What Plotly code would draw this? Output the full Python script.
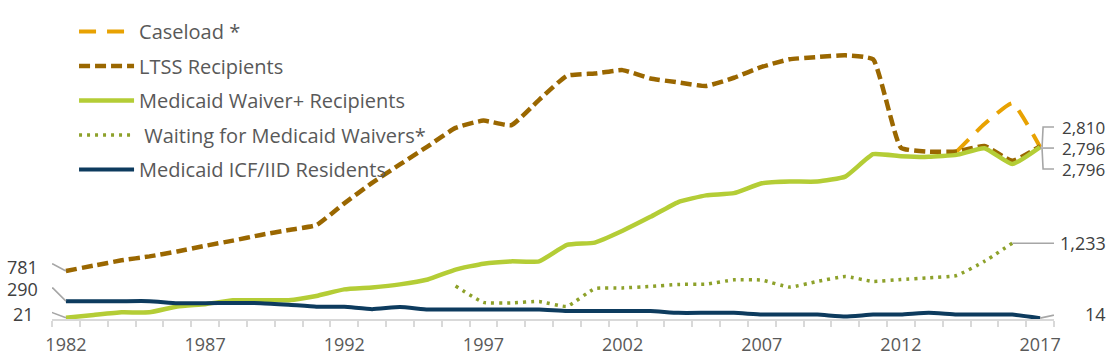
import plotly.graph_objects as go

years = list(range(1982, 2018))

caseload = [None] * 32 + [2722, 3170, 3510, 2796]
ltss = [781, 868, 954, 1018, 1098, 1190, 1275, 1367, 1447, 1527,
        1880, 2214, 2513, 2808, 3108, 3226, 3151, 3564, 3955, 3992,
        4047, 3912, 3847, 3789, 3923, 4100, 4223, 4260, 4288, 4223,
        2786, 2722, 2722, 2813, 2572, 2810]
waiver = [21, 65, 108, 108, 204, 241, 305, 305, 305, 375,
          482, 514, 563, 643, 804, 900, 937, 937, 1206, 1243,
          1436, 1661, 1902, 2010, 2047, 2207, 2235, 2235, 2315, 2680,
          2648, 2637, 2669, 2776, 2519, 2796]
waiting = [None] * 14 + [535, 270, 262, 285, 205, 495,
                         505, 530, 562, 567, 637, 632, 519, 611, 691, 611,
                         643, 670, 707, 937, 1233, None]
icf = [290, 290, 290, 290, 258, 258, 262, 258, 232, 200,
       198, 160, 195, 155, 155, 155, 155, 155, 130, 130,
       130, 130, 100, 100, 100, 72, 72, 72, 40, 72,
       72, 100, 72, 72, 72, 14]

names = ["Caseload *", "LTSS Recipients", "Medicaid Waiver+ Recipients",
         " Waiting for Medicaid Waivers*", "Medicaid ICF/IID Residents"]
tick_years = [1982, 1987, 1992, 1997, 2002, 2007, 2012, 2017]

FONT = "Open Sans"
TXT = "#404040"
LEAD = "#A6A6A6"

fig = go.Figure()
styles = [
    (caseload, dict(color="#E8A202", width=4, dash="17px,11px")),
    (ltss, dict(color="#9A6700", width=4.5, dash="11px,5px")),
    (waiver, dict(color="#B4CD36", width=4.5)),
    (waiting, dict(color="#8DA12A", width=3.5, dash="3px,5px")),
    (icf, dict(color="#0D3B5E", width=4)),
]
for i, ((vals, ln), nm) in enumerate(zip(styles, names)):
    fig.add_trace(go.Scatter(
        x=years, y=vals, name=nm, mode="lines",
        line=dict(shape="spline", smoothing=0.4, **ln),
        legendgroup=f"g{i}", connectgaps=False, hoverinfo="skip"))

shapes = []
annos = []

def leader(xa, ya, path):
    shapes.append(dict(type="path", xref="x", yref="y", xsizemode="pixel",
                       ysizemode="pixel", xanchor=xa, yanchor=ya, path=path,
                       line=dict(color=LEAD, width=1.6)))

def label(xa, ya, text, xs, ys, anchor, size=18):
    annos.append(dict(x=xa, y=ya, xref="x", yref="y", text=text, showarrow=False,
                      xanchor=anchor, yanchor="middle", xshift=xs, yshift=ys,
                      font=dict(family=FONT, size=size, color=TXT)))

# left labels
leader(1982, ltss[0], "M0,0 L-13,7 L-21,7")
label(1982, ltss[0], f"{ltss[0]:,}", -26, 4, "right")
leader(1982, icf[0], "M0,0 L-13,13 L-21,13")
label(1982, icf[0], f"{icf[0]:,}", -26, 12, "right")
leader(1982, waiver[0], "M0,0 L-16,6 L-25,6")
label(1982, waiver[0], f"{waiver[0]:,}", -30, 4, "right")

# right labels
leader(2017, waiver[-1], "M2,0 L3,20 L20,20")
leader(2017, waiver[-1], "M0,-1 L20,-1")
leader(2017, waiver[-1], "M2,-2 L3,-22 L20,-22")
label(2017, waiver[-1], f"{ltss[-1]:,}", 20, 20, "left", 17)
label(2017, waiver[-1], f"{caseload[-1]:,}", 20, -1, "left", 17)
label(2017, waiver[-1], f"{waiver[-1]:,}", 20, -22, "left", 17)
leader(2016, waiting[-2], "M0,0 L43,0")
label(2016, waiting[-2], f"{waiting[-2]:,}", 46, 0, "left")
leader(2017, icf[-1], "M0,0 L28,6 L40,6")
label(2017, icf[-1], f"{icf[-1]:,}", 43, 4, "left")

fig.update_layout(
    width=1112, height=363,
    margin=dict(l=52, r=58, t=5, b=44, autoexpand=False),
    paper_bgcolor="white", plot_bgcolor="white",
    font=dict(family=FONT, color=TXT),
    showlegend=True,
    legend=dict(x=0.022, y=0.978, xanchor="left", yanchor="top",
                bgcolor="rgba(0,0,0,0)",
                font=dict(family=FONT, size=20, color="#595959"),
                itemwidth=55, tracegroupgap=5.5, traceorder="grouped"),
    shapes=shapes, annotations=annos,
    xaxis=dict(range=[1981.5, 2017.5], showgrid=False, zeroline=False,
               showline=True, linecolor="#D9D9D9", linewidth=2,
               tickvals=tick_years, ticktext=[str(y) for y in tick_years],
               ticks="outside", ticklen=8, tickcolor="rgba(0,0,0,0)",
               tickfont=dict(family=FONT, size=18, color="#595959"),
               minor=dict(tickvals=[y - 0.5 for y in years] + [2017.5],
                          ticks="outside", ticklen=6, tickcolor="#D9D9D9",
                          tickwidth=1.5, showgrid=False)),
    yaxis=dict(range=[0, 5106], visible=False, showgrid=False, zeroline=False),
)

fig.write_html("out.html", config={"displayModeBar": False},
               post_script="document.body.style.margin='0';")
